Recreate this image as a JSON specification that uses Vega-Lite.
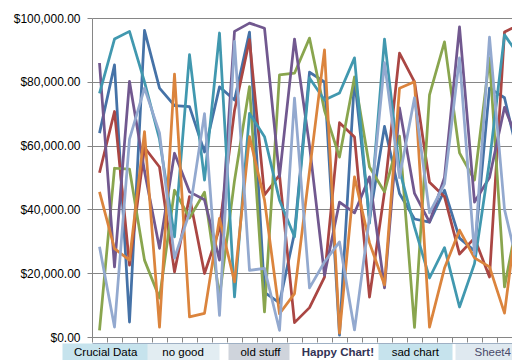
{
  "$schema": "https://vega.github.io/schema/vega-lite/v6.json",
  "width": 420,
  "height": 319,
  "padding": {"left": 92, "top": 18, "right": 0, "bottom": 23},
  "autosize": {"type": "none"},
  "background": "white",
  "config": {"view": {"stroke": null}, "font": "Liberation Sans"},
  "layer": [
    {
      "data": {"values": [
        {"i":0,"Series1":63900,"Series2":51500,"Series3":2100,"Series4":85900,"Series5":76400,"Series6":45500,"Series7":28300},
        {"i":1,"Series1":85300,"Series2":70700,"Series3":52900,"Series4":22000,"Series5":93400,"Series6":27700,"Series7":3100},
        {"i":2,"Series1":4700,"Series2":22500,"Series3":52600,"Series4":80100,"Series5":95800,"Series6":24100,"Series7":62000},
        {"i":3,"Series1":96100,"Series2":59400,"Series3":24100,"Series4":52000,"Series5":80000,"Series6":64400,"Series7":78000},
        {"i":4,"Series1":78000,"Series2":53300,"Series3":12200,"Series4":27800,"Series5":62000,"Series6":3100,"Series7":64000},
        {"i":5,"Series1":72500,"Series2":20400,"Series3":46000,"Series4":57600,"Series5":31400,"Series6":82400,"Series7":24700},
        {"i":6,"Series1":72200,"Series2":44000,"Series3":37300,"Series4":45500,"Series5":88500,"Series6":6300,"Series7":39000},
        {"i":7,"Series1":58000,"Series2":19900,"Series3":45400,"Series4":43000,"Series5":49200,"Series6":7400,"Series7":70000},
        {"i":8,"Series1":78400,"Series2":34000,"Series3":12600,"Series4":24100,"Series5":95300,"Series6":37200,"Series7":6800},
        {"i":9,"Series1":74300,"Series2":71000,"Series3":49000,"Series4":95800,"Series5":12600,"Series6":17300,"Series7":92700},
        {"i":10,"Series1":95600,"Series2":93200,"Series3":78500,"Series4":98400,"Series5":70100,"Series6":62800,"Series7":20900},
        {"i":11,"Series1":14000,"Series2":44500,"Series3":7900,"Series4":96800,"Series5":62800,"Series6":42900,"Series7":21500},
        {"i":12,"Series1":10700,"Series2":50800,"Series3":82200,"Series4":50300,"Series5":42900,"Series6":7300,"Series7":2100},
        {"i":13,"Series1":32600,"Series2":4500,"Series3":82700,"Series4":93400,"Series5":31400,"Series6":13600,"Series7":74900},
        {"i":14,"Series1":83000,"Series2":9200,"Series3":93700,"Series4":60000,"Series5":81200,"Series6":52000,"Series7":15400},
        {"i":15,"Series1":80000,"Series2":18800,"Series3":71000,"Series4":19400,"Series5":74300,"Series6":90000,"Series7":23500},
        {"i":16,"Series1":600,"Series2":67200,"Series3":56400,"Series4":42300,"Series5":76500,"Series6":1200,"Series7":29800},
        {"i":17,"Series1":81000,"Series2":62700,"Series3":81500,"Series4":38900,"Series5":87500,"Series6":50200,"Series7":2200},
        {"i":18,"Series1":37000,"Series2":12500,"Series3":53300,"Series4":50200,"Series5":35700,"Series6":29500,"Series7":37600},
        {"i":19,"Series1":66000,"Series2":45500,"Series3":45500,"Series4":15400,"Series5":93400,"Series6":16300,"Series7":86000},
        {"i":20,"Series1":45000,"Series2":89000,"Series3":63000,"Series4":71800,"Series5":52400,"Series6":78000,"Series7":50000},
        {"i":21,"Series1":37000,"Series2":80000,"Series3":3000,"Series4":45000,"Series5":34500,"Series6":80000,"Series7":75000},
        {"i":22,"Series1":36000,"Series2":48500,"Series3":75900,"Series4":36000,"Series5":18500,"Series6":3100,"Series7":38900},
        {"i":23,"Series1":46000,"Series2":44000,"Series3":92500,"Series4":50000,"Series5":28000,"Series6":21600,"Series7":48000},
        {"i":24,"Series1":31000,"Series2":26000,"Series3":57700,"Series4":97200,"Series5":9400,"Series6":33500,"Series7":87500},
        {"i":25,"Series1":27000,"Series2":31000,"Series3":49200,"Series4":42300,"Series5":23000,"Series6":24800,"Series7":26000},
        {"i":26,"Series1":78000,"Series2":18800,"Series3":87500,"Series4":50000,"Series5":55000,"Series6":22000,"Series7":94000},
        {"i":27,"Series1":75000,"Series2":95600,"Series3":15700,"Series4":72000,"Series5":94700,"Series6":7500,"Series7":40000},
        {"i":28,"Series1":55000,"Series2":98000,"Series3":40000,"Series4":60000,"Series5":88000,"Series6":44000,"Series7":20000}
      ]},
      "transform": [{"fold": ["Series1","Series2","Series3","Series4","Series5","Series6","Series7"], "as": ["series","value"]}],
      "mark": {"type": "line", "strokeWidth": 2.75, "clip": true, "strokeJoin": "round"},
      "encoding": {
        "x": {"field": "i", "type": "quantitative",
          "scale": {"domain": [-0.5, 27.5], "nice": false, "zero": false},
          "axis": {"values": [-0.5,0.5,1.5,2.5,3.5,4.5,5.5,6.5,7.5,8.5,9.5,10.5,11.5,12.5,13.5,14.5,15.5,16.5,17.5,18.5,19.5,20.5,21.5,22.5,23.5,24.5,25.5,26.5,27.5],
            "labels": false, "grid": false, "title": null, "tickSize": 5, "tickColor": "#868686", "domainColor": "#868686"}},
        "y": {"field": "value", "type": "quantitative",
          "scale": {"domain": [0, 100000], "nice": false},
          "axis": {"values": [0,20000,40000,60000,80000,100000], "format": "$,.2f", "title": null,
            "grid": true, "gridColor": "#868686", "tickColor": "#868686", "domainColor": "#868686",
            "labelFont": "Liberation Sans", "labelFontSize": 12, "labelColor": "#000000", "labelPadding": 7, "tickSize": 5}},
        "color": {"field": "series", "type": "nominal",
          "scale": {"domain": ["Series1","Series2","Series3","Series4","Series5","Series6","Series7"],
            "range": ["#4572A7","#AA4643","#89A54E","#71588F","#4198AF","#DB843D","#93A9CF"]},
          "legend": null}
      }
    },
    {
      "data": {"values": [
        {"tab": "Crucial Data", "t": 0},
        {"tab": "no good", "t": 1},
        {"tab": "old stuff", "t": 2},
        {"tab": "Happy Chart!", "t": 3},
        {"tab": "sad chart", "t": 4},
        {"tab": "Sheet4", "t": 5}
      ]},
      "mark": {"type": "text", "opacity": 0},
      "encoding": {
        "x": {"field": "t", "type": "quantitative",
          "scale": {"domain": [-0.1705, 5.2558], "nice": false, "zero": false},
          "axis": {"orient": "bottom", "offset": 6, "values": [0,1,2,3,4,5],
            "labelExpr": "['Crucial Data','no good','old stuff','Happy Chart!','sad chart','Sheet4'][datum.value]",
            "title": null, "grid": false, "labelFlush": false, "labelOverlap": false,
            "domainColor": "#9fb0c4", "tickSize": 17,
            "tickWidth": {"condition": [
              {"test": "datum.value == 0", "value": 86},
              {"test": "datum.value == 1", "value": 72},
              {"test": "datum.value == 2", "value": 64},
              {"test": "datum.value == 3", "value": 96}], "value": 74},
            "tickColor": {"condition": [
              {"test": "datum.value == 0", "value": "#c6e3ed"},
              {"test": "datum.value == 1", "value": "#e2edf2"},
              {"test": "datum.value == 2", "value": "#cfd4dc"},
              {"test": "datum.value == 3", "value": "#ffffff"},
              {"test": "datum.value == 4", "value": "#c6e3ed"}], "value": "#dfe9f0"},
            "labelFont": "Liberation Sans", "labelFontSize": 11.5, "labelPadding": -14,
            "labelColor": {"condition": [
              {"test": "datum.value == 3", "value": "#333355"},
              {"test": "datum.value == 5", "value": "#4a4a6a"}], "value": "#000000"},
            "labelFontWeight": {"condition": {"test": "datum.value == 3", "value": "bold"}, "value": "normal"}}}
      }
    }
  ],
  "resolve": {"scale": {"x": "independent"}, "axis": {"x": "independent"}}
}
